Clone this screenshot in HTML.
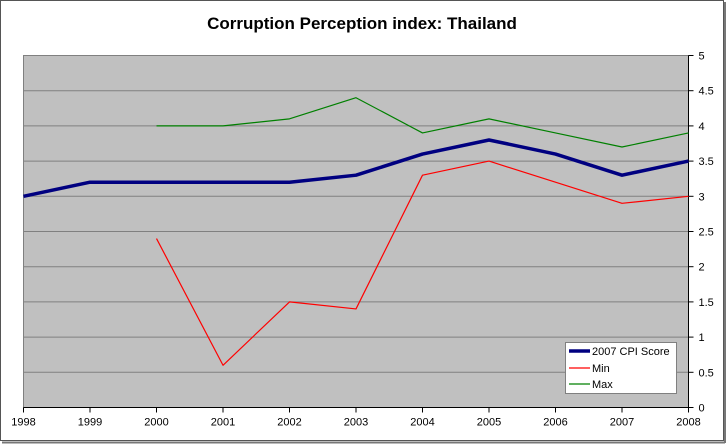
<!DOCTYPE html>
<html><head><meta charset="utf-8"><style>
body{margin:0;background:#fff;}
svg{display:block;font-family:"Liberation Sans",Arial,sans-serif;}
</style></head><body>
<svg id="chart" width="727" height="444">
<rect x="0.5" y="0.5" width="723" height="440" fill="#fff" stroke="#555"/>
<line x1="2" y1="442.5" x2="725" y2="442.5" stroke="#777" stroke-width="2"/>
<line x1="725" y1="2" x2="725" y2="443" stroke="#777" stroke-width="2"/>
<text x="362" y="29" text-anchor="middle" font-size="17" font-weight="bold">Corruption Perception index: Thailand</text>
<rect x="23.5" y="55.5" width="665" height="352" fill="#c0c0c0" stroke="#808080"/>
<g id="grid"></g><g id="axes"></g><g id="series"></g>
<g>
<rect x="565.5" y="342.5" width="111" height="51" fill="#fff" stroke="#808080"/>
<line x1="569" y1="351" x2="590" y2="351" stroke="#000080" stroke-width="3.5"/>
<text x="592" y="355" font-size="11">2007 CPI Score</text>
<line x1="569" y1="368" x2="590" y2="368" stroke="#ff0000" stroke-width="1.2"/>
<text x="592" y="372" font-size="11">Min</text>
<line x1="569" y1="384" x2="590" y2="384" stroke="#008000" stroke-width="1.2"/>
<text x="592" y="388" font-size="11">Max</text>
</g>
</svg>
<script>
const years=[1998,1999,2000,2001,2002,2003,2004,2005,2006,2007,2008];
const cpi=[3.0,3.2,3.2,3.2,3.2,3.3,3.6,3.8,3.6,3.3,3.5];
const minV=[null,null,2.4,0.6,1.5,1.4,3.3,3.5,3.2,2.9,3.0];
const maxV=[null,null,4.0,4.0,4.1,4.4,3.9,4.1,3.9,3.7,3.9];
const yTicks=[0,0.5,1,1.5,2,2.5,3,3.5,4,4.5,5];
const X0=23.5,X1=688.5,Y0=407.5,Y1=55.5;
const x=i=>X0+i*(X1-X0)/(years.length-1);
const y=v=>Y0-v/5*(Y0-Y1);
const NS='http://www.w3.org/2000/svg';
function mk(t,a,p){const e=document.createElementNS(NS,t);for(const k in a)e.setAttribute(k,a[k]);p.appendChild(e);return e;}
const grid=document.getElementById('grid'),axes=document.getElementById('axes'),ser=document.getElementById('series');
yTicks.forEach(v=>{
 if(v>0&&v<5){const g=mk('line',{x1:X0,x2:X1,y1:y(v),y2:y(v),stroke:'#808080'},grid);
 
 }
 mk('line',{x1:X1,x2:X1+5,y1:y(v),y2:y(v),stroke:'#000'},axes);
 const t=mk('text',{x:X1+10,y:y(v)+4,'font-size':11},axes);t.textContent=v;
 
 
});
mk('line',{x1:X1,x2:X1,y1:Y1,y2:Y0,stroke:'#000'},axes);
mk('line',{x1:X0,x2:X1,y1:Y0,y2:Y0,stroke:'#000'},axes);
years.forEach((yr,i)=>{
 mk('line',{x1:x(i),x2:x(i),y1:Y0,y2:Y0+5,stroke:'#000'},axes);
 const t=mk('text',{x:x(i),y:Y0+18,'font-size':11,'text-anchor':'middle'},axes);t.textContent=yr;
 
 
});
function line(vals,color,w,name){
 const pts=[];vals.forEach((v,i)=>{if(v!==null)pts.push(x(i)+','+y(v));});
 const p=mk('polyline',{points:pts.join(' '),fill:'none',stroke:color,'stroke-width':w,'stroke-linejoin':'round'},ser);
 
 
}
line(maxV,'#008000',1.2,'max-line');
line(minV,'#ff0000',1.2,'min-line');
line(cpi,'#000080',3.5,'cpi-line');
</script>
</body></html>
